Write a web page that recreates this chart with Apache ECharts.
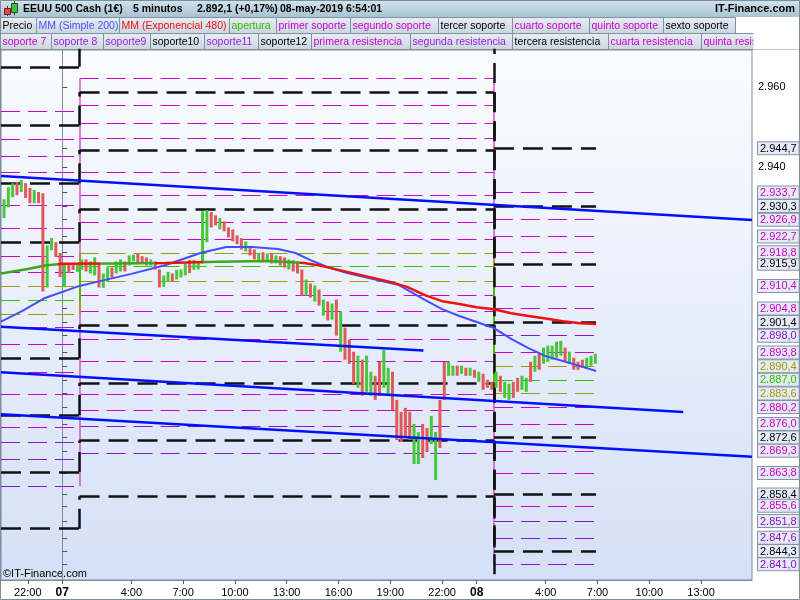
<!DOCTYPE html>
<html>
<head>
<meta charset="utf-8">
<title>EEUU 500 Cash (1€) - 5 minutos</title>
<script src="https://cdn.jsdelivr.net/npm/echarts@6/dist/echarts.min.js"></script>
<style>
  html, body { margin: 0; padding: 0; background: #fff; }
  #chart { width: 800px; height: 600px; }
</style>
</head>
<body>
<div id="chart"></div>
<script>
// ---- time axis (times are 'DD HH:MM', May 2019) ----
const xMin = '06 20:27'
const xMax = '08 15:57'
const xTicks = ['06 22:00', '07 00:00', '07 04:00', '07 07:00', '07 10:00', '07 13:00', '07 16:00',
  '07 19:00', '07 22:00', '08 00:00', '08 04:00', '08 07:00', '08 10:00', '08 13:00']

// ---- price, 15 minute bars ----
const barStart = '06 20:30'
const barMinutes = 15
const barLow = [
  2927.3, 2930, 2932.5, 2933, 2933.8, 2932.3, 2931, 2931, 2931, 2909,
  2910, 2919.3, 2917.6, 2912.6, 2910.1, 2913.6, 2914.4, 2913.9, 2914.4, 2914,
  2913.5, 2913, 2910, 2909.9, 2911.5, 2912.5, 2913.5, 2914, 2914, 2915.5,
  2916.5, 2916.3, 2916, 2915.5, 2915.5, 2914.5, 2910, 2910.2, 2911.4, 2911.5,
  2912, 2912.5, 2913, 2913.6, 2914.4, 2914.5, 2916, 2921.3, 2925, 2925.5,
  2924.5, 2924, 2922.5, 2921.5, 2920.8, 2919.5, 2919, 2918, 2917, 2916.9,
  2916.5, 2916.4, 2916, 2916, 2915.5, 2915, 2914.5, 2914, 2913.5, 2908,
  2908, 2907.5, 2906.5, 2905.5, 2903, 2901.8, 2902, 2898, 2894, 2892,
  2891, 2886, 2885, 2883, 2884, 2883, 2882, 2883, 2885, 2883,
  2879.5, 2872, 2871.5, 2873, 2872, 2866, 2866, 2867.5, 2869, 2871,
  2862, 2870, 2882, 2888, 2888, 2888, 2888.5, 2888, 2888, 2887.5,
  2886.5, 2884.5, 2885, 2884.5, 2885, 2884, 2882.5, 2882, 2882.5, 2884,
  2884.5, 2884, 2886.5, 2889, 2889.5, 2891, 2891.5, 2892, 2892.5, 2893,
  2891.5, 2891, 2889.5, 2889.5, 2890, 2890, 2890.5, 2891
]
const barHigh = [
  2932, 2935, 2936, 2936.3, 2936.8, 2936, 2934.8, 2934.3, 2933.8, 2933.5,
  2920.5, 2922.3, 2921.3, 2918.6, 2916.1, 2916.1, 2915.6, 2915.6, 2917, 2917,
  2916.5, 2917.5, 2916, 2913.5, 2915, 2915, 2916.5, 2917, 2916.5, 2918,
  2918.2, 2918.5, 2917.8, 2917.5, 2917, 2916.5, 2914.5, 2913, 2913.9, 2913.5,
  2914.4, 2914.5, 2916, 2916.9, 2916.9, 2916.5, 2929, 2929.3, 2928.8, 2928,
  2927.3, 2926.5, 2925, 2924.5, 2923, 2922.3, 2921.5, 2920, 2919.5, 2918.6,
  2918.8, 2918.5, 2918.5, 2918, 2917.8, 2917.5, 2917, 2916.8, 2916.5, 2914.5,
  2912, 2911, 2910.5, 2909.5, 2907, 2906.5, 2906, 2907, 2904, 2900,
  2897, 2894, 2893, 2892, 2893, 2889, 2888, 2891.5, 2894.5, 2890,
  2889, 2882, 2879, 2880, 2879, 2876, 2874, 2876, 2875, 2878,
  2874, 2882, 2891.5, 2891.5, 2890.5, 2890.5, 2890.5, 2890, 2890, 2889.5,
  2889, 2888.5, 2887, 2886.5, 2889, 2888, 2886.5, 2886, 2886.5, 2887.5,
  2888, 2887.5, 2891.5, 2893, 2893.5, 2895, 2895.5, 2895.5, 2896.5, 2896.7,
  2895, 2894, 2892.5, 2891.5, 2892, 2892.5, 2893, 2893.5
]
// u = up bar (green), d = down bar (red)
const barDir = ('uuududdudd' + 'uudduddu' + 'uduuduuduudu' + 'udddudduuduuuduu' +
  'uudduddddduddudududduddd' + 'udududududdduduudduuddddduudduudduu' +
  'dudududdduduudduudu' + 'duuuuududdduuuuu').split('')

// ---- moving averages ----
const smaTimes = ['06 20:27', '06 21:40', '06 23:00', '07 01:00', '07 02:00', '07 04:00', '07 06:00',
  '07 08:00', '07 09:30', '07 11:00', '07 12:30', '07 13:30', '07 14:30', '07 15:30', '07 16:30',
  '07 18:00', '07 19:30', '07 21:00', '07 22:00', '07 23:00', '08 00:00', '08 01:00', '08 02:00',
  '08 03:00', '08 04:00', '08 05:00', '08 06:00', '08 06:55']
const smaValues = [2901.5, 2904.1, 2907.4, 2910.4, 2911.4, 2913.4, 2915.6,
  2918.6, 2920.1, 2920.1, 2919.6, 2918.6, 2916.6, 2914.9, 2913.6,
  2912.1, 2910.6, 2906.9, 2904.6, 2902.9, 2901.4, 2899.9, 2897.2,
  2894.9, 2892.9, 2891.7, 2890.4, 2889.2]

const emaTimes = ['06 20:27', '06 22:00', '06 23:00', '07 00:00', '07 03:00', '07 06:00', '07 09:00',
  '07 12:00', '07 14:00', '07 15:00', '07 16:00', '07 17:00', '07 18:00', '07 19:00', '07 20:00',
  '07 21:00', '07 22:00', '07 23:00', '08 00:00', '08 01:00', '08 02:00', '08 03:00', '08 04:00',
  '08 05:00', '08 06:00', '08 06:55']
const emaValues = [2913.5, 2914.6, 2915.5, 2915.9, 2916.0, 2916.1, 2916.4,
  2916.6, 2916.1, 2915.4, 2914.4, 2913.4, 2912.4, 2911.4, 2910.1,
  2908.1, 2906.6, 2905.9, 2905.1, 2904.6, 2903.6, 2902.9, 2902.3,
  2901.6, 2901.1, 2900.9]
// the EMA is drawn green while price is above it, red while below
const emaColorBreaks = ['06 23:46', '07 02:12', '07 05:23', '07 08:10', '07 13:47']

// ---- trend lines ----
const trendFrom = ['06 20:27', '06 20:27', '06 20:27', '06 20:27']
const trendFromValue = [2937.8, 2900.2, 2888.9, 2878.4]
const trendTo = ['08 15:57', '07 20:55', '08 11:58', '08 15:57']
const trendToValue = [2926.8, 2894.3, 2879.0, 2867.8]

// ---- daily pivot levels (day 06, 07, 08) ----
const dayBounds = ['06 20:27', '07 01:00', '08 01:00', '08 06:55']
const openLevels = [[2906.9], [2915.2], [2887.0]]
const oliveLevels = [[2910.3, 2903.4], [2918.6, 2911.6], [2890.4, 2883.6]]
const blackLevels = [
  [2965.0, 2950.4, 2936.0, 2921.3, 2892.4, 2878.2, 2864.0, 2849.9],
  [2973.2, 2958.7, 2944.3, 2929.5, 2900.7, 2886.2, 2871.9, 2858.0],
  [2944.7, 2930.3, 2915.9, 2901.4, 2872.6, 2858.4, 2844.3, 2830.1]
]
const magentaLevels = [
  [2953.9, 2946.9, 2942.7, 2938.7, 2930.4, 2924.8, 2917.9, 2913.8, 2900.0, 2895.8, 2888.9, 2883.4, 2875.2],
  [2962.1, 2955.5, 2951.0, 2947.1, 2938.7, 2933.0, 2926.3, 2922.0, 2908.1, 2904.2, 2897.2, 2891.7, 2883.4, 2879.4],
  [2933.7, 2926.9, 2922.7, 2918.8, 2910.4, 2904.8, 2893.8, 2880.2, 2876.0, 2869.3, 2863.8, 2855.6]
]
const purpleLevels = [
  [2871.4, 2867.2, 2860.5],
  [2875.5, 2868.8],
  [2898.0, 2851.8, 2847.6, 2841.0]
]
const plainTicks = [2940, 2960]

// ---- legend ----
const legendRow1 = ['Precio', 'MM (Simple 200)', 'MM (Exponencial 480)', 'apertura', 'primer soporte',
  'segundo soporte', 'tercer soporte', 'cuarto soporte', 'quinto soporte', 'sexto soporte']
const legendRow2 = ['soporte 7', 'soporte 8', 'soporte9', 'soporte10', 'soporte11', 'soporte12',
  'primera resistencia', 'segunda resistencia', 'tercera resistencia', 'cuarta resistencia', 'quinta resistencia']

const C = {
  black: '#000000', magenta: '#cc00cc', purple: '#8a14cc', olive: '#9c9c00', green: '#2fc400',
  sma: '#4050ff', emaUp: '#3fa51f', emaDown: '#f01010', trend: '#0010ff',
  barUp: '#45c83a', barDown: '#e05858'
}
const legendRow1Colors = [C.black, '#4455ff', '#ee1111', '#33bb00', C.magenta, C.magenta, C.black, C.magenta, C.magenta, C.black]
const legendRow2Colors = [C.magenta, '#9922dd', '#9922dd', C.black, '#9922dd', C.black, C.magenta, '#9922dd', C.black, C.magenta, C.magenta]
const legendRow1Edges = [0, 36, 119, 229, 276, 350, 438, 512, 589, 663, 735, 753]
const legendRow2Edges = [0, 51, 103, 150, 204, 258, 311, 410, 512, 608, 701, 800]

const FONT = '"Liberation Sans", Arial, sans-serif'

function h(s) {
  const d = +s.slice(0, 2), hh = +s.slice(3, 5), mm = +s.slice(6, 8)
  return (d - 7) * 24 + hh + mm / 60
}

function esNum(v, dec) {
  const parts = v.toFixed(dec).split('.')
  const int = parts[0].replace(/\B(?=(\d{3})+(?!\d))/g, '.')
  return parts.length > 1 ? int + ',' + parts[1] : int
}

function segments(levelsByDay) {
  const out = []
  levelsByDay.forEach((levels, d) => {
    levels.forEach(v => out.push({ coords: [[h(dayBounds[d]), v], [h(dayBounds[d + 1]), v]] }))
  })
  return out
}

function connectors(levelsByDay) {
  const out = []
  for (let d = 1; d < levelsByDay.length; d++) {
    levelsByDay[d].forEach((v, i) => {
      out.push({ coords: [[h(dayBounds[d]), levelsByDay[d - 1][i]], [h(dayBounds[d]), v]] })
    })
  }
  return out
}

function spanConnectors() {
  const out = []
  for (let d = 1; d < magentaLevels.length; d++) {
    const all = magentaLevels[d - 1].concat(magentaLevels[d], purpleLevels[d - 1], purpleLevels[d])
    out.push({ coords: [[h(dayBounds[d]), Math.max(...all)], [h(dayBounds[d]), Math.min(...all)]] })
  }
  return out
}

function levelSeries(data, color, width, dash, z) {
  return {
    type: 'lines', coordinateSystem: 'cartesian2d', polyline: false, silent: true, z: z,
    clip: true, lineStyle: { color: color, width: width, type: dash, opacity: 1, curveness: 0 },
    data: data
  }
}

// ---- y axis labels: last day's levels boxed in their colour ----
const yMin = 2837.1
const yMax = 2969.2
const labelStyle = new Map()
const lastDay = dayBounds.length - 2
blackLevels[lastDay].forEach(v => labelStyle.set(v.toFixed(1), 'lvBlack'))
magentaLevels[lastDay].forEach(v => labelStyle.set(v.toFixed(1), 'lvMagenta'))
purpleLevels[lastDay].forEach(v => labelStyle.set(v.toFixed(1), 'lvPurple'))
oliveLevels[lastDay].forEach(v => labelStyle.set(v.toFixed(1), 'lvOlive'))
openLevels[lastDay].forEach(v => labelStyle.set(v.toFixed(1), 'lvOpen'))
plainTicks.forEach(v => labelStyle.set(v.toFixed(1), 'plain'))
// the two plain ticks go first and last so the axis never drops a crowded end label
const levelLabelValues = [...labelStyle.keys()].map(Number)
  .filter(v => v >= yMin && v <= yMax && plainTicks.indexOf(v) < 0)
const yLabelValues = [plainTicks[0]].concat(levelLabelValues, [plainTicks[1]])

function box(color) {
  return {
    color: color, fontSize: 11, fontFamily: FONT, lineHeight: 12,
    backgroundColor: '#e5eaf5', borderColor: '#8494a8', borderWidth: 1, padding: [1, 2, 0, 2]
  }
}

// ---- price bars ----
const barData = barLow.map((lo, i) => [h(barStart) + (i + 0.5) * barMinutes / 60, lo, barHigh[i], barDir[i] === 'u' ? 1 : 0])

const series = [
  levelSeries(segments(magentaLevels), C.magenta, 1, [19, 8], 2),
  levelSeries(segments(purpleLevels), C.purple, 1, [19, 8], 2),
  levelSeries(segments(oliveLevels), C.olive, 1, [19, 8], 2),
  levelSeries(segments(openLevels), C.green, 1, [19, 8], 2),
  levelSeries(spanConnectors(), '#d64fd6', 1.5, 'solid', 2),
  levelSeries(connectors(oliveLevels), C.olive, 1.5, 'solid', 2),
  levelSeries(connectors(openLevels), C.green, 1.5, 'solid', 2),
  levelSeries(segments(blackLevels).concat(connectors(blackLevels)), '#111111', 2.5, [20, 9], 3),
  {
    type: 'custom', name: 'Precio', z: 4, clip: true, silent: true,
    encode: { x: 0, y: [1, 2] },
    renderItem: function (params, api) {
      const top = api.coord([api.value(0), api.value(2)])
      const bottom = api.coord([api.value(0), api.value(1)])
      return {
        type: 'rect',
        shape: { x: top[0] - 1.5, y: top[1], width: 3, height: Math.max(1, bottom[1] - top[1]) },
        style: { fill: api.value(3) ? C.barUp : C.barDown }
      }
    },
    data: barData
  },
  {
    type: 'line', name: 'MM (Simple 200)', z: 5, showSymbol: false, silent: true,
    lineStyle: { color: C.sma, width: 2 },
    data: smaTimes.map((t, i) => [h(t), smaValues[i]])
  },
  {
    type: 'line', name: 'MM (Exponencial 480)', z: 6, showSymbol: false, silent: true,
    lineStyle: { width: 2.5 },
    data: emaTimes.map((t, i) => [h(t), emaValues[i]])
  },
  levelSeries(trendFrom.map((t, i) => ({ coords: [[h(t), trendFromValue[i]], [h(trendTo[i]), trendToValue[i]]] })),
    C.trend, 2.5, 'solid', 7)
]
const emaIndex = series.findIndex(s => s.name === 'MM (Exponencial 480)')

const emaPieces = []
emaColorBreaks.forEach((b, i) => {
  const piece = { lt: h(b), color: i % 2 === 0 ? C.emaUp : C.emaDown }
  if (i > 0) piece.gte = h(emaColorBreaks[i - 1])
  emaPieces.push(piece)
})
emaPieces.push({ gte: h(emaColorBreaks[emaColorBreaks.length - 1]), color: emaColorBreaks.length % 2 === 0 ? C.emaUp : C.emaDown })

// ---- header and legend drawn as graphics ----
function legendCells(names, colors, edges, top) {
  const els = []
  names.forEach((name, i) => {
    els.push({
      type: 'rect', silent: true,
      shape: { x: edges[i] + 0.5, y: top + 0.5, width: edges[i + 1] - edges[i], height: 16 },
      style: {
        fill: new echarts.graphic.LinearGradient(0, 0, 0, 1, [
          { offset: 0, color: '#e8eef4' }, { offset: 1, color: '#c9d5de' }
        ]),
        stroke: '#7f929f', lineWidth: 1
      }
    })
  })
  names.forEach((name, i) => {
    els.push({
      type: 'text', silent: true,
      style: {
        text: name, x: edges[i] + 2.5, y: top + 9, fill: colors[i],
        fontSize: 10.5, fontFamily: FONT, align: 'left', verticalAlign: 'middle'
      }
    })
  })
  return els
}

const headerText = [
  { text: 'EEUU 500 Cash (1€)', x: 23 },
  { text: '5 minutos', x: 133 },
  { text: '2.892,1 (+0,17%)', x: 197 },
  { text: '08-may-2019 6:54:01', x: 280 }
]

const graphics = [
  {
    type: 'rect', silent: true, shape: { x: 0, y: 0, width: 800, height: 17 },
    style: {
      fill: new echarts.graphic.LinearGradient(0, 0, 0, 1, [
        { offset: 0, color: '#d2e3ec' }, { offset: 1, color: '#a9c3d3' }
      ])
    }
  },
  { type: 'line', silent: true, shape: { x1: 7.5, y1: 6, x2: 7.5, y2: 16 }, style: { stroke: '#702020', lineWidth: 1 } },
  { type: 'rect', silent: true, shape: { x: 4.5, y: 8.5, width: 6, height: 6 }, style: { fill: '#e04848', stroke: '#702020', lineWidth: 1 } },
  { type: 'line', silent: true, shape: { x1: 14.5, y1: 1, x2: 14.5, y2: 15 }, style: { stroke: '#205020', lineWidth: 1 } },
  { type: 'rect', silent: true, shape: { x: 11.5, y: 3.5, width: 6, height: 9 }, style: { fill: '#40c040', stroke: '#205020', lineWidth: 1 } }
]
headerText.forEach(t => graphics.push({
  type: 'text', silent: true,
  style: { text: t.text, x: t.x, y: 9, fill: '#000', fontSize: 10.5, fontWeight: 'bold', fontFamily: FONT, verticalAlign: 'middle' }
}))
graphics.push({
  type: 'text', silent: true,
  style: { text: 'IT-Finance.com', x: 795, y: 9, fill: '#000', fontSize: 11, fontWeight: 'bold', fontFamily: FONT, align: 'right', verticalAlign: 'middle' }
})
graphics.push(...legendCells(legendRow1, legendRow1Colors, legendRow1Edges, 17))
graphics.push(...legendCells(legendRow2, legendRow2Colors, legendRow2Edges, 33))
graphics.push({ type: 'rect', silent: true, shape: { x: 753.5, y: 17, width: 46, height: 32.5 }, style: { fill: '#fff' } })
graphics.push({ type: 'rect', silent: true, shape: { x: 0.5, y: 0.5, width: 799, height: 599 }, style: { fill: 'none', stroke: '#7d8d9b', lineWidth: 1 } })
graphics.push({
  type: 'text', silent: true,
  style: { text: '©IT-Finance.com', x: 3, y: 574, fill: '#000', fontSize: 11, fontFamily: FONT, verticalAlign: 'middle' }
})

const option = {
  animation: false,
  textStyle: { fontFamily: FONT },
  grid: {
    left: 1, right: 48, top: 50, bottom: 20, show: true, containLabel: false, outerBoundsMode: 'none',
    backgroundColor: new echarts.graphic.LinearGradient(0, 0, 0, 1, [
      { offset: 0, color: '#fbfcff' }, { offset: 1, color: '#d4e0f6' }
    ]),
    borderColor: '#7d8d9b', borderWidth: 1
  },
  xAxis: {
    type: 'value', min: h(xMin), max: h(xMax),
    splitLine: { show: false },
    axisLine: { lineStyle: { color: '#7d8d9b' } },
    axisTick: { customValues: xTicks.map(h), length: 4, lineStyle: { color: '#555' } },
    axisLabel: {
      customValues: xTicks.map(h), margin: 7, color: '#000', fontSize: 11, fontFamily: FONT,
      hideOverlap: false,
      formatter: function (v) {
        const hour = Math.round(((v % 24) + 24) % 24)
        if (hour === 0) return '{d|' + String(7 + Math.round(v / 24)).padStart(2, '0') + '}'
        return hour + ':00'
      },
      rich: { d: { fontWeight: 'bold', fontSize: 12, fontFamily: FONT, color: '#000' } }
    }
  },
  yAxis: {
    type: 'value', position: 'right', min: yMin, max: yMax, scale: true,
    splitLine: { show: false },
    axisLine: { show: true, lineStyle: { color: '#7d8d9b' } },
    axisTick: { show: true, customValues: yLabelValues, length: 5, lineStyle: { color: '#555' } },
    axisLabel: {
      customValues: yLabelValues, margin: 6, fontSize: 11, fontFamily: FONT, color: '#000',
      hideOverlap: false,
      formatter: function (v) {
        const s = labelStyle.get(v.toFixed(1))
        if (s === 'plain') return '{plain|' + esNum(v, 0) + '}'
        return '{' + s + '|' + esNum(v, 1) + '}'
      },
      rich: {
        plain: { color: '#000', fontSize: 11, fontFamily: FONT },
        lvBlack: box('#000000'), lvMagenta: box(C.magenta), lvPurple: box(C.purple),
        lvOlive: box(C.olive), lvOpen: box(C.green)
      }
    }
  },
  visualMap: [{
    type: 'piecewise', show: false, seriesIndex: emaIndex, dimension: 0, pieces: emaPieces
  }],
  graphic: graphics,
  series: series
}

const chart = echarts.init(document.getElementById('chart'))
chart.setOption(option)
window.addEventListener('resize', () => chart.resize())
</script>
</body>
</html>
